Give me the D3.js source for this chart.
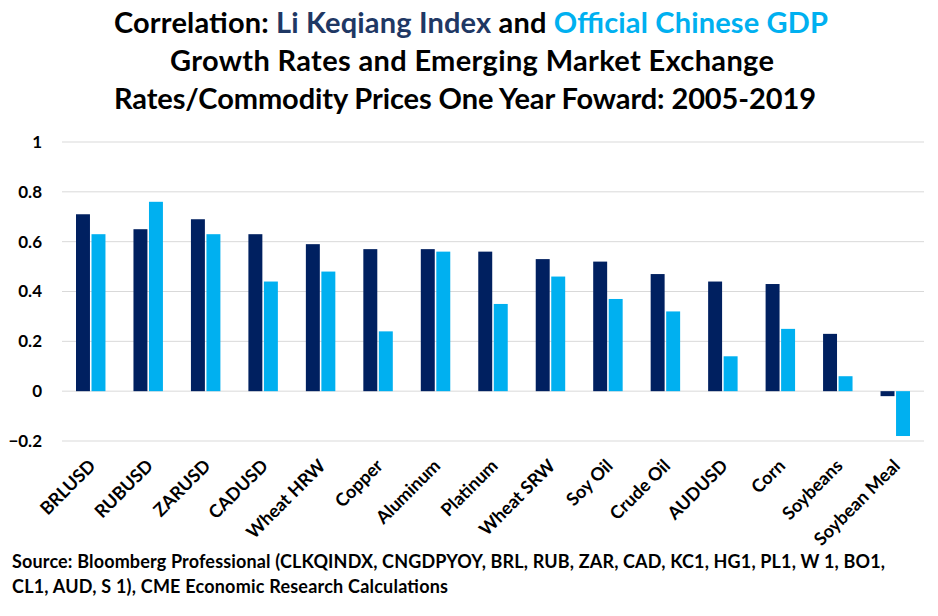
<!DOCTYPE html>
<html>
<head>
<meta charset="utf-8">
<script src="https://cdn.jsdelivr.net/npm/d3@7"></script>
<style>
  body { margin: 0; background: #fff; }
  svg text { font-family: Lato, "Open Sans", sans-serif; font-weight: bold; }
</style>
</head>
<body>
<div id="chart"></div>
<script>
const categories = ['BRLUSD', 'RUBUSD', 'ZARUSD', 'CADUSD', 'Wheat HRW', 'Copper', 'Aluminum',
  'Platinum', 'Wheat SRW', 'Soy Oil', 'Crude Oil', 'AUDUSD', 'Corn', 'Soybeans', 'Soybean Meal'];
const liKeqiang = [0.71, 0.65, 0.69, 0.63, 0.59, 0.57, 0.57, 0.56, 0.53, 0.52, 0.47, 0.44, 0.43, 0.23, -0.02];
const officialGdp = [0.63, 0.76, 0.63, 0.44, 0.48, 0.24, 0.56, 0.35, 0.46, 0.37, 0.32, 0.14, 0.25, 0.06, -0.18];
const yTicks = [-0.2, 0, 0.2, 0.4, 0.6, 0.8, 1];
const seriesNames = ['Li Keqiang Index', 'Official Chinese GDP'];

const width = 938, height = 616;
const margin = { top: 142, right: 14, bottom: 175, left: 62 };
const innerwidth = width - margin.left - margin.right;
const innerheight = height - margin.top - margin.bottom;
const colors = ['#002060', '#00B0F0'];

const svg = d3.select('#chart').append('svg')
  .attr('width', width)
  .attr('height', height);

// title
const title = svg.append('g').attr('class', 'title')
  .attr('text-anchor', 'middle')
  .attr('font-size', 29);
const t1 = title.append('text').attr('x', 471).attr('y', 33).attr('textLength', 714);
t1.append('tspan').text('Correlation: ').attr('fill', '#000');
t1.append('tspan').text(seriesNames[0]).attr('fill', '#1F3864');
t1.append('tspan').text(' and ').attr('fill', '#000');
t1.append('tspan').text(seriesNames[1]).attr('fill', '#00B0F0');
title.append('text').attr('x', 472).attr('y', 71).attr('textLength', 604)
  .text('Growth Rates and Emerging Market Exchange');
title.append('text').attr('x', 465).attr('y', 109).attr('textLength', 702)
  .text('Rates/Commodity Prices One Year Foward: 2005-2019');

const g = svg.append('g').attr('transform', `translate(${margin.left},${margin.top})`);

const xScale = d3.scaleBand().domain(categories).range([0, innerwidth]).paddingInner(0).paddingOuter(0);
const xSub = d3.scaleBand().domain([0, 1]).range([14, xScale.bandwidth() - 14]).paddingInner(0.1);
const yScale = d3.scaleLinear().domain([-0.2, 1]).range([innerheight, 0]);

// gridlines
g.append('g').attr('class', 'grid')
  .selectAll('line').data(yTicks).join('line')
  .attr('x1', 0).attr('x2', innerwidth)
  .attr('y1', d => yScale(d)).attr('y2', d => yScale(d))
  .attr('stroke', '#d9d9d9').attr('stroke-width', 1);

// y axis
const yAxis = d3.axisLeft(yScale).tickValues(yTicks).tickSize(0).tickPadding(20)
  .tickFormat(d => d3.format('')(+d.toFixed(1)));
g.append('g').attr('class', 'y-axis').call(yAxis)
  .call(a => a.select('.domain').remove())
  .selectAll('text').attr('font-size', 17).attr('fill', '#000')
  .style('font-family', 'Lato, sans-serif').style('font-weight', 'bold');

// bars
const seriesData = [liKeqiang, officialGdp];
seriesData.forEach((vals, s) => {
  g.append('g').attr('class', 'series-' + s)
    .selectAll('rect').data(vals).join('rect')
    .attr('x', (d, i) => xScale(categories[i]) + xSub(s))
    .attr('width', xSub.bandwidth())
    .attr('y', d => yScale(Math.max(0, d)))
    .attr('height', d => Math.abs(yScale(d) - yScale(0)))
    .attr('fill', colors[s]);
});

// x axis labels
const xAxis = d3.axisBottom(xScale).tickSize(0).tickPadding(0);
g.append('g').attr('class', 'x-axis')
  .attr('transform', `translate(0,${innerheight})`)
  .call(xAxis)
  .call(a => a.select('.domain').remove())
  .selectAll('text')
  .attr('font-size', 18).attr('fill', '#000')
  .style('font-family', 'Lato, sans-serif').style('font-weight', 'bold')
  .attr('text-anchor', 'end')
  .attr('dy', 0)
  .attr('transform', 'translate(6,26) rotate(-45)');

// source
const src = svg.append('g').attr('font-size', 18).attr('fill', '#000').style('white-space', 'pre');
src.append('text').attr('x', 12).attr('y', 568).attr('textLength', 873)
  .text('Source: Bloomberg Professional  (CLKQINDX, CNGDPYOY, BRL, RUB, ZAR, CAD, KC1, HG1, PL1, W 1, BO1,');
src.append('text').attr('x', 12).attr('y', 593).attr('textLength', 436)
  .text('CL1, AUD, S 1), CME Economic Research Calculations');
</script>
</body>
</html>
